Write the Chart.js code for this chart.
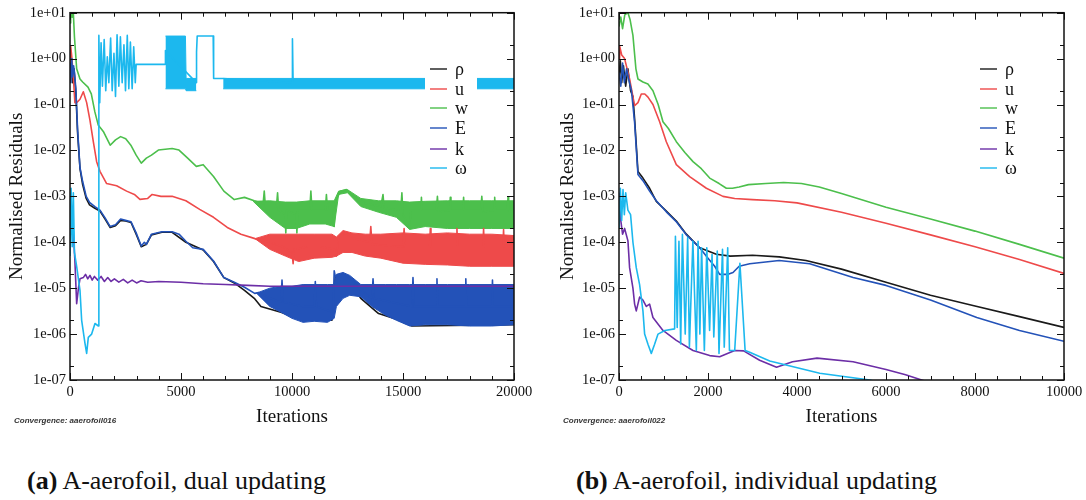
<!DOCTYPE html>
<html>
<head>
<meta charset="utf-8">
<script src="https://cdn.jsdelivr.net/npm/chart.js@4.4.0/dist/chart.umd.min.js"></script>
<style>
  body { margin: 0; background: #fff; width: 1086px; height: 500px; position: relative; overflow: hidden; }
  canvas { position: absolute; top: 0; }
  .caption { position: absolute; top: 468px; font-family: 'Liberation Serif', 'Times New Roman', serif; font-size: 26px; line-height: 26px; white-space: nowrap; color: #111; }
</style>
</head>
<body>
<canvas id="chartA" width="540" height="440" style="left:0;width:540px;height:440px"></canvas>
<canvas id="chartB" width="546" height="440" style="left:540px;width:546px;height:440px"></canvas>
<div class="caption" style="left:27px"><b>(a)</b> A-aerofoil, dual updating</div>
<div class="caption" style="left:576px"><b>(b)</b> A-aerofoil, individual updating</div>
<script>
// series names, in legend order
const seriesNames = ['ρ', 'u', 'w', 'E', 'k', 'ω'];
const seriesColors = ['#1a1a1a', '#ee4a4a', '#4cbf4c', '#2352b8', '#6c2ea6', '#1cb8ee'];

// axes
const yTickValues = [1e-7, 1e-6, 1e-5, 1e-4, 1e-3, 1e-2, 1e-1, 1, 10];
const yTickLabels = ['1e-07', '1e-06', '1e-05', '1e-04', '1e-03', '1e-02', '1e-01', '1e+00', '1e+01'];
const xTicksA = [0, 5000, 10000, 15000, 20000];
const xTicksB = [0, 2000, 4000, 6000, 8000, 10000];

// ---- (a) dual updating : [iteration, residual] ----
const rhoA = [[0,0.5],[60,1.0],[120,0.3],[180,0.6],[264,0.18],[340,0.025],[450,0.004],[570,0.0018],[730,9e-4],[880,6.5e-4],[1120,5.5e-4],[1350,4.8e-4],[1580,3.2e-4],[1810,2.1e-4],[2050,2.3e-4],[2280,3e-4],[2500,2.9e-4],[2750,2.7e-4],[2980,1.5e-4],[3210,8e-5],[3440,9e-5],[3670,1.45e-4],[4140,1.65e-4],[4600,1.65e-4],[5220,1e-4],[6000,6.8e-5],[6465,3.8e-5],[6930,1.7e-5],[7400,1.3e-5],[7860,9e-6],[8300,6e-6],[8600,4e-6],[9500,3e-6],[10500,2e-6],[11800,2e-6],[11950,1.8e-5],[12400,1.8e-5],[13100,6e-6],[13900,2.8e-6],[14600,2.2e-6],[15400,1.5e-6],[20000,1.6e-6]];
const uA = [[0,0.6],[30,1.9],[80,1.1],[150,0.4],[220,0.11],[300,0.11],[450,0.13],[600,0.19],[750,0.11],[900,0.045],[1050,0.0155],[1200,0.0057],[1350,0.0035],[1650,0.0019],[2100,0.0017],[2550,0.0013],[2900,0.0011],[3150,8.6e-4],[3500,9e-4],[3700,1.1e-3],[4100,1e-3],[4600,1e-3],[5220,8e-4],[5840,5.2e-4],[6465,3.5e-4],[7085,2.1e-4],[7700,1.5e-4],[8330,1.2e-4],[9000,1e-4],[9600,8e-5],[10000,6e-5],[10050,3.4e-5],[10100,7e-5],[10700,8e-5],[11300,8e-5],[11900,7e-5],[12000,5e-5],[12100,1.3e-4],[12400,1.6e-4],[12800,1.2e-4],[13500,1e-4],[13550,2.2e-4],[13600,9e-5],[15000,8e-5],[15050,2e-4],[15100,8e-5],[16200,8e-5],[16230,2e-4],[16260,8e-5],[17400,8e-5],[17430,2e-4],[17460,8e-5],[18600,8e-5],[18630,2e-4],[18660,8e-5],[19500,8e-5],[19530,1.9e-4],[19560,8e-5],[20000,8e-5]];
const wA = [[0,6],[30,10],[100,8],[150,10],[200,3],[300,0.6],[450,0.36],[570,0.31],[810,0.24],[960,0.17],[1120,0.069],[1270,0.036],[1500,0.026],[1810,0.013],[2050,0.017],[2280,0.02],[2510,0.018],[2740,0.013],[2980,0.0079],[3210,0.0053],[3440,0.0068],[3670,0.0079],[3980,0.0102],[4600,0.011],[4910,0.0102],[5300,0.0068],[5690,0.0045],[6000,0.0049],[6465,0.0027],[6930,0.0013],[7400,8.5e-4],[7860,9.5e-4],[8300,8e-4],[8700,7e-4],[8750,1.3e-3],[8800,6e-4],[9300,6e-4],[9350,1.2e-3],[9400,5e-4],[9700,4e-4],[9720,1.6e-4],[9760,5e-4],[10200,4e-4],[10220,1.6e-4],[10260,5e-4],[10800,5e-4],[10850,1.3e-3],[10900,5e-4],[11500,5e-4],[11550,1.1e-3],[11600,5e-4],[11850,5e-4],[11900,2.2e-4],[11950,8e-4],[12200,1.3e-3],[12450,1.4e-3],[12800,1e-3],[13300,7e-4],[14000,6e-4],[14100,1.1e-3],[14150,5.5e-4],[14900,5e-4],[14950,1.2e-3],[15000,4e-4],[15300,2e-4],[15350,5e-4],[15800,5e-4],[15830,9.5e-4],[15860,5e-4],[16500,5e-4],[16550,1e-3],[16600,4.5e-4],[17100,5e-4],[17130,9.5e-4],[17160,5e-4],[17700,5e-4],[17730,9.5e-4],[17760,5e-4],[18500,5e-4],[18550,1e-3],[18600,4.5e-4],[19100,5e-4],[19130,9.5e-4],[19160,5e-4],[19700,5e-4],[19730,9.5e-4],[19760,5e-4],[20000,4.5e-4]];
const eA = [[0,0.8],[40,0.3],[80,1.0],[120,0.4],[160,0.7],[200,0.5],[264,0.22],[340,0.03],[450,0.0042],[570,0.0021],[730,0.001],[880,7.4e-4],[1120,6e-4],[1350,5e-4],[1580,3.4e-4],[1810,2.2e-4],[2050,2.4e-4],[2280,3.2e-4],[2500,3e-4],[2750,2.8e-4],[2980,1.6e-4],[3210,8.3e-5],[3350,1e-4],[3440,9e-5],[3670,1.5e-4],[4140,1.7e-4],[4600,1.7e-4],[4910,1.5e-4],[5220,1.05e-4],[5530,7.6e-5],[6000,7e-5],[6465,3.9e-5],[6930,1.7e-5],[7400,1.35e-5],[7860,1.05e-5],[8320,7.7e-6],[8500,8e-6],[9000,6e-6],[9500,5e-6],[9550,1.5e-5],[9600,5e-6],[10500,4e-6],[11000,4e-6],[11050,1.4e-5],[11100,4e-6],[11850,3e-6],[11900,2.4e-5],[11950,1.8e-5],[12300,2.1e-5],[12700,1.5e-5],[13100,9e-6],[13600,6e-6],[13650,1.6e-5],[13700,6e-6],[15400,4e-6],[15450,1.7e-5],[15500,4e-6],[16500,4e-6],[16530,1.6e-5],[16560,4e-6],[17800,4e-6],[17830,1.6e-5],[17860,4e-6],[19000,4e-6],[19030,1.5e-5],[19060,4e-6],[20000,4e-6]];
const kA = [[0,2e-4],[100,1.5e-4],[150,1.7e-4],[220,4e-5],[300,4.6e-6],[380,1e-5],[450,1.6e-5],[600,1.7e-5],[700,2e-5],[800,1.6e-5],[900,1.9e-5],[1000,1.5e-5],[1100,1.8e-5],[1250,1.5e-5],[1400,1.8e-5],[1550,1.4e-5],[1700,1.7e-5],[1850,1.4e-5],[2000,1.6e-5],[2200,1.35e-5],[2400,1.55e-5],[2600,1.3e-5],[2800,1.5e-5],[3000,1.3e-5],[3200,1.45e-5],[3500,1.35e-5],[4000,1.4e-5],[5000,1.35e-5],[6000,1.25e-5],[7000,1.2e-5],[8000,1.15e-5],[9000,1.1e-5],[20000,1.1e-5]];
const omA = [[0,5e-5],[50,1.5e-3],[100,8e-5],[150,1.2e-3],[200,6e-5],[300,3e-5],[450,9e-6],[525,2e-6],[675,6.3e-7],[750,3.8e-7],[825,8.5e-7],[975,1e-6],[1125,1.7e-6],[1280,1.5e-6],[1300,3.2],[1340,0.11],[1400,2.2],[1460,0.25],[1540,2.6],[1610,0.2],[1680,1.1],[1750,0.3],[1830,2.8],[1900,0.2],[1980,1.3],[2050,0.15],[2120,3.3],[2200,0.25],[2270,3.0],[2350,0.3],[2430,2.0],[2500,0.2],[2580,3.2],[2650,0.22],[2720,2.3],[2800,0.22],[2870,1.8],[2940,0.3],[2980,0.75],[4280,0.75],[4300,1.5],[5690,0.3],[5700,1.4],[5730,3.1],[6450,3.1],[6470,0.37],[6900,0.37],[10000,0.3],[10020,2.7],[10050,0.3],[20000,0.3]];
// noisy bands : [iteration, upper, lower]
const uBandA = [[8330,1.2e-4,1.2e-4],[9000,1.5e-4,7e-5],[9700,1.5e-4,5e-5],[10300,1.5e-4,3.8e-5],[11000,1.5e-4,4.5e-5],[11800,1.5e-4,4.7e-5],[12000,1.3e-4,5e-5],[12300,1.8e-4,6e-5],[12700,1.6e-4,6e-5],[13300,1.5e-4,5e-5],[14000,1.5e-4,4.5e-5],[15000,1.6e-4,3.5e-5],[16000,1.5e-4,3.3e-5],[17000,1.6e-4,3.2e-5],[18000,1.5e-4,3e-5],[19000,1.5e-4,3e-5],[20000,1.4e-4,3e-5]];
const wBandA = [[8250,7.8e-4,7.8e-4],[9000,8e-4,3.5e-4],[9700,7.5e-4,2e-4],[10200,7.5e-4,2e-4],[10800,8e-4,2.5e-4],[11500,8e-4,2.5e-4],[11900,8e-4,2.2e-4],[12100,1.3e-3,1.1e-3],[12500,1.4e-3,1.2e-3],[13100,9e-4,6e-4],[13900,8e-4,4.5e-4],[14700,8e-4,3.5e-4],[15300,7.5e-4,1.9e-4],[16000,7.8e-4,2.2e-4],[17000,8e-4,2e-4],[18000,8e-4,2e-4],[19000,8e-4,2e-4],[20000,8e-4,2e-4]];
const eBandA = [[8400,7.8e-6,7.8e-6],[9000,1e-5,4e-6],[9500,1.1e-5,3e-6],[10000,1.1e-5,2.2e-6],[10500,1.2e-5,1.8e-6],[11000,1.2e-5,1.9e-6],[11600,1.2e-5,1.8e-6],[11900,1.2e-5,2.2e-6],[12000,2e-5,4e-6],[12300,2.2e-5,6e-6],[12600,1.9e-5,7e-6],[13100,1.2e-5,6.5e-6],[13600,1.2e-5,4e-6],[14200,1.2e-5,2.6e-6],[14700,1.2e-5,2e-6],[15300,1.2e-5,1.5e-6],[16000,1.2e-5,1.6e-6],[17000,1.2e-5,1.6e-6],[18000,1.2e-5,1.5e-6],[19000,1.2e-5,1.5e-6],[20000,1.2e-5,1.6e-6]];
const omBandA1 = [[4300,3.1,0.22],[5200,3.1,0.22],[5230,0.37,0.2],[5690,0.37,0.2]];
const omBandA2 = [[6900,0.37,0.22],[20000,0.37,0.22]];

// ---- (b) individual updating ----
const rhoB = [[0,0.4],[30,0.9],[60,0.3],[100,0.7],[150,0.25],[200,0.6],[260,0.2],[313,0.15],[351,0.049],[426,0.0035],[538,0.0025],[688,0.0015],[838,7.8e-4],[1063,4.8e-4],[1288,2.9e-4],[1513,1.5e-4],[1813,7.6e-5],[2187,5.5e-5],[2500,5e-5],[3000,5.2e-5],[3600,4.8e-5],[4200,4e-5],[5000,2.6e-5],[6000,1.35e-5],[7000,7e-6],[8000,4.1e-6],[9000,2.4e-6],[10000,1.4e-6]];
const uB = [[0,1.0],[14,1.9],[60,1.2],[126,1.0],[238,0.36],[351,0.095],[426,0.11],[501,0.17],[580,0.17],[651,0.145],[763,0.1],[913,0.042],[1063,0.0155],[1288,0.0049],[1588,0.0027],[1963,0.0015],[2337,0.001],[2600,9e-4],[3000,8.5e-4],[3500,8e-4],[4000,7.2e-4],[5000,4.5e-4],[6000,2.6e-4],[7000,1.45e-4],[8000,8e-5],[9000,4.2e-5],[10000,2.1e-5]];
const wB = [[0,5],[40,8],[80,4.5],[130,9],[201,10],[250,7],[313,3.2],[380,0.6],[426,0.36],[538,0.31],[650,0.28],[763,0.2],[880,0.1],[988,0.042],[1110,0.03],[1288,0.0155],[1480,0.009],[1663,0.0057],[1850,0.004],[2038,0.0025],[2250,0.0019],[2412,0.0015],[2550,0.0015],[2700,0.0016],[2910,0.0018],[3300,0.0019],[3700,0.002],[4100,0.0019],[4500,0.0016],[5000,0.00115],[6000,5.8e-4],[7000,3.2e-4],[8000,1.75e-4],[9000,9e-5],[10000,4.5e-5]];
const eB = [[0,0.5],[40,0.25],[80,0.8],[120,0.3],[170,0.6],[220,0.35],[280,0.2],[351,0.04],[426,0.003],[538,0.0022],[688,0.0013],[838,8e-4],[1063,4.6e-4],[1288,2.8e-4],[1513,1.45e-4],[1813,7.6e-5],[2000,4.5e-5],[2150,3e-5],[2262,2e-5],[2450,2e-5],[2562,2.2e-5],[2700,3e-5],[2937,3.4e-5],[3600,4e-5],[4286,3.4e-5],[5261,1.7e-5],[6000,1.15e-5],[7000,5.5e-6],[8040,2.3e-6],[9000,1.2e-6],[10000,7e-7]];
const kB = [[0,1.2e-3],[40,3e-4],[80,1.5e-4],[126,2e-4],[201,1.07e-4],[238,2.8e-5],[313,1e-5],[351,4.5e-6],[388,3.2e-6],[463,6.4e-6],[538,5.5e-6],[613,4e-6],[688,4.5e-6],[763,2.3e-6],[988,1.2e-6],[1288,7.3e-7],[1663,4.4e-7],[2038,3.4e-7],[2262,3.2e-7],[2600,4.4e-7],[2800,4.3e-7],[3160,2.7e-7],[3540,1.9e-7],[3900,2.5e-7],[4450,3e-7],[5260,2.5e-7],[6000,1.7e-7],[6440,1.3e-7],[6800,1e-7],[7100,8e-8]];
const omB = [[0,2e-4],[30,1.5e-3],[60,3e-4],[90,1.4e-3],[120,4e-4],[150,1.2e-3],[200,5e-4],[260,4e-4],[313,1e-4],[388,2.8e-5],[463,1.2e-5],[538,3.2e-6],[576,1e-6],[651,6e-7],[726,3.8e-7],[800,6e-7],[877,1e-6],[1030,1.2e-6],[1250,1.3e-6],[1268,1.35e-4],[1308,1.4e-6],[1347,1.05e-4],[1386,6.1e-7],[1425,1.5e-4],[1488,1e-6],[1543,1.26e-4],[1582,5.2e-7],[1660,1.05e-4],[1738,4.4e-7],[1777,1.05e-4],[1817,1e-6],[1856,7.6e-5],[1918,4.4e-7],[1973,7.6e-5],[2036,1.2e-6],[2091,5.4e-5],[2130,8.7e-7],[2208,6.4e-5],[2247,3.8e-7],[2326,7e-5],[2365,5.2e-7],[2443,7.6e-5],[2482,4.4e-7],[2600,4.4e-7],[2717,3.5e-5],[2834,4.4e-7],[2937,4e-7],[3387,2.6e-7],[4511,1.4e-7],[5636,1e-7],[6000,8e-8]];

// drawing order, smaller is on top
const drawOrder = [5, 3, 4, 2, 1, 0];

const serif = "'Liberation Serif', 'Times New Roman', serif";
const tickFont = { family: serif, size: 14.5 };
const titleFont = { family: serif, size: 19, lineHeight: 1 };

function toXY(points, col) {
  return points.map(p => ({ x: p[0], y: p[col || 1] }));
}

function lineSet(points, idx) {
  return {
    label: seriesNames[idx],
    data: toXY(points),
    borderColor: seriesColors[idx],
    borderWidth: 1.6,
    borderJoinStyle: 'round',
    pointRadius: 0,
    tension: 0,
    fill: false,
    order: drawOrder[idx]
  };
}

// a noisy band: upper edge filled down to the lower edge
function bandSets(band, idx) {
  const c = seriesColors[idx];
  return [
    { label: seriesNames[idx] + ' hi', data: toXY(band, 1), borderColor: c, backgroundColor: c, borderWidth: 1, pointRadius: 0, tension: 0, fill: '+1', order: drawOrder[idx] },
    { label: seriesNames[idx] + ' lo', data: toXY(band, 2), borderColor: c, borderWidth: 1, pointRadius: 0, tension: 0, fill: false, order: drawOrder[idx] }
  ];
}

// box, inward ticks, legend and the small run label
function framePlugin(xTicks, xMinorStep, legendX, note) {
  return {
    id: 'frame',
    afterDatasetsDraw(chart) {
      const { ctx, chartArea: a, scales: { x, y } } = chart;
      ctx.save();
      ctx.strokeStyle = '#111';
      ctx.lineWidth = 1;
      ctx.beginPath();
      for (let v = 0; v <= x.max; v += xMinorStep) {
        const px = Math.round(x.getPixelForValue(v)) + 0.5;
        const len = xTicks.includes(v) ? 7 : 4;
        ctx.moveTo(px, a.bottom); ctx.lineTo(px, a.bottom - len);
        ctx.moveTo(px, a.top); ctx.lineTo(px, a.top + len);
      }
      yTickValues.forEach(v => {
        [[v, 7], [v * 2, 4]].forEach(([tv, len]) => {
          if (tv > y.max) return;
          const py = Math.round(y.getPixelForValue(tv)) + 0.5;
          ctx.moveTo(a.left, py); ctx.lineTo(a.left + len, py);
          ctx.moveTo(a.right, py); ctx.lineTo(a.right - len, py);
        });
      });
      ctx.stroke();
      ctx.lineWidth = 1.5;
      ctx.strokeRect(a.left, a.top, a.right - a.left, a.bottom - a.top);

      // legend
      const rows = [69, 89, 108, 128, 149, 168];
      ctx.fillStyle = '#fff';
      ctx.fillRect(legendX - 5, 58, 52, 120);
      ctx.font = '18px ' + serif;
      ctx.textBaseline = 'middle';
      ctx.textAlign = 'left';
      seriesNames.forEach((name, i) => {
        ctx.strokeStyle = seriesColors[i];
        ctx.lineWidth = 1.4;
        ctx.beginPath();
        ctx.moveTo(legendX, rows[i]);
        ctx.lineTo(legendX + 17, rows[i]);
        ctx.stroke();
        ctx.fillStyle = '#111';
        ctx.fillText(name, legendX + 25, rows[i] + 1);
      });

      ctx.font = "italic bold 8px 'Liberation Sans', Arial, sans-serif";
      ctx.fillStyle = '#333';
      ctx.fillText(note.text, note.x, 421);
      ctx.restore();
    }
  };
}

function makeChart(id, datasets, xMax, xTicks, xMinorStep, yWidth, yTitlePad, rightPad, legendX, note) {
  return new Chart(document.getElementById(id), {
    type: 'line',
    data: { datasets },
    options: {
      responsive: false,
      animation: false,
      devicePixelRatio: 1,
      layout: { padding: { left: 0, top: 10, right: rightPad, bottom: 0 } },
      plugins: { legend: { display: false }, tooltip: { enabled: false } },
      scales: {
        x: {
          type: 'linear', min: 0, max: xMax,
          afterBuildTicks: s => { s.ticks = xTicks.map(v => ({ value: v })); },
          afterFit: s => { s.height = 60; },
          grid: { display: false, drawTicks: false },
          border: { display: false },
          ticks: { color: '#111', font: tickFont, padding: 3, maxRotation: 0, autoSkip: false, callback: v => String(v) },
          title: { display: true, text: 'Iterations', color: '#111', font: titleFont, padding: { top: 0, bottom: 13.5 } }
        },
        y: {
          type: 'logarithmic', min: 1e-7, max: 10,
          afterBuildTicks: s => { s.ticks = yTickValues.map(v => ({ value: v })); },
          afterFit: s => { s.width = yWidth; },
          grid: { display: false, drawTicks: false },
          border: { display: false },
          ticks: { color: '#111', font: tickFont, padding: 4, autoSkip: false, callback: (v, i) => yTickLabels[i] },
          title: { display: true, text: 'Normalised Residuals', color: '#111', font: titleFont, padding: { top: yTitlePad, bottom: 0 } }
        }
      }
    },
    plugins: [framePlugin(xTicks, xMinorStep, legendX, note)]
  });
}

const datasetsA = [
  lineSet(omA, 5), ...bandSets(omBandA1, 5), ...bandSets(omBandA2, 5),
  lineSet(kA, 4),
  lineSet(eA, 3), ...bandSets(eBandA, 3),
  lineSet(uA, 1), ...bandSets(uBandA, 1),
  lineSet(wA, 2), ...bandSets(wBandA, 2),
  lineSet(rhoA, 0)
];

const datasetsB = [
  lineSet(omB, 5), lineSet(kB, 4), lineSet(eB, 3),
  lineSet(uB, 1), lineSet(wB, 2), lineSet(rhoB, 0)
];

makeChart('chartA', datasetsA, 20000, xTicksA, 1000, 70, 7.5, 26, 430,
  { text: 'Convergence: aaerofoil016', x: 14 });
makeChart('chartB', datasetsB, 10000, xTicksB, 500, 79, 18.5, 22, 440,
  { text: 'Convergence: aaerofoil022', x: 23 });
</script>
</body>
</html>
